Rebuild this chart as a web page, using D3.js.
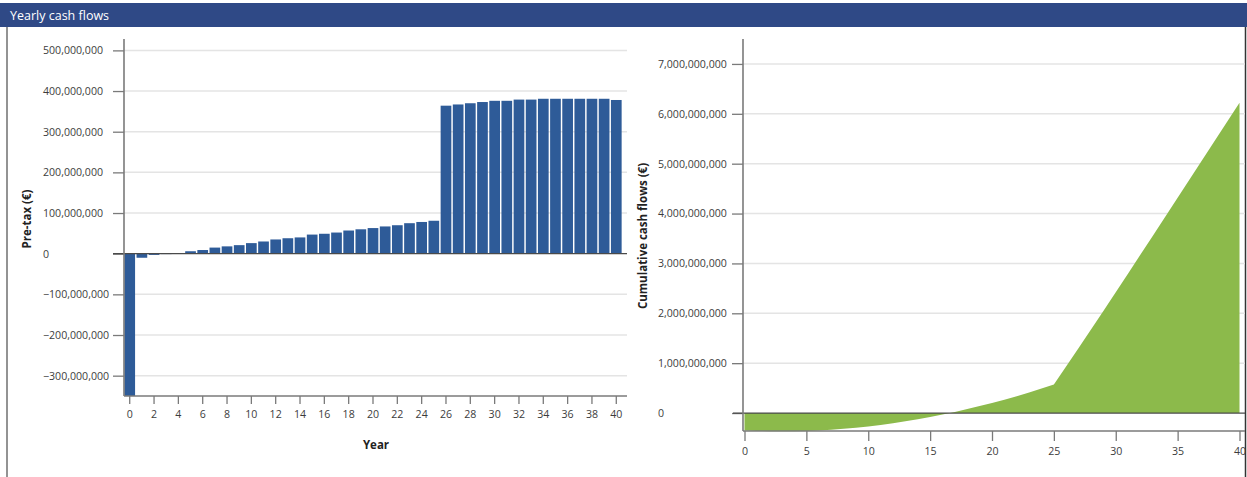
<!DOCTYPE html>
<html>
<head>
<meta charset="utf-8">
<script src="https://cdn.jsdelivr.net/npm/d3@7"></script>
<style>
  html, body { margin: 0; padding: 0; background: #fff; }
  svg { display: block; font-family: "Open Sans", "Noto Sans", sans-serif; }
</style>
</head>
<body>
<svg id="chart" width="1247" height="477"></svg>
<script>
// Project years 0..40
const years = d3.range(0, 41);

// Pre-tax yearly cash flow (€) per year
const preTax = [
  -350e6, -10e6, -3e6, -1e6, 0, 6e6, 9e6, 15e6, 18e6, 21e6,
  26e6, 30e6, 35e6, 38e6, 40e6, 47e6, 49e6, 52e6, 57e6, 60e6,
  63e6, 67e6, 70e6, 75e6, 78e6, 81e6, 364e6, 367e6, 370e6, 373e6,
  376e6, 376e6, 379e6, 379e6, 381e6, 381e6, 381e6, 381e6, 381e6, 381e6,
  378e6
];

// Cumulative cash flow is the running total of the yearly flows
const cumulative = Array.from(d3.cumsum(preTax));

// Axis ticks
const leftTicks = [500e6, 400e6, 300e6, 200e6, 100e6, 0, -100e6, -200e6, -300e6];
const leftYearTicks = d3.range(0, 41, 2);
const rightTicks = [7e9, 6e9, 5e9, 4e9, 3e9, 2e9, 1e9, 0];
const rightYearTicks = [0, 5, 10, 15, 20, 25, 30, 35, 40];

const title = "Yearly cash flows";
const leftYLabel = "Pre-tax (€)";
const leftXLabel = "Year";
const rightYLabel = "Cumulative cash flows (€)";

const svg = d3.select("#chart");
const fmt = d3.format(",");

const C = {
  header: "#2f4986",
  border: "#6f6f6f",
  grid: "#e4e4e4",
  axis: "#7a7a7a",
  zero: "#4a4a4a",
  text: "#3c3c3c",
  bar: "#2e5b98",
  area: "#8cba4b"
};

// Panel frame and header
svg.append("rect").attr("x", 0).attr("y", 3).attr("width", 1247).attr("height", 24).attr("fill", C.header);
svg.append("text").attr("x", 10).attr("y", 20).attr("fill", "#fff")
  .attr("font-size", 12.5).text(title);
svg.append("line").attr("x1", 7).attr("x2", 7).attr("y1", 27).attr("y2", 477)
  .attr("stroke", C.border).attr("stroke-width", 1.5);
svg.append("line").attr("x1", 1245.5).attr("x2", 1245.5).attr("y1", 27).attr("y2", 477)
  .attr("stroke", "#333").attr("stroke-width", 1.5);

function yAxisGroup(g, y, ticks, axisX, gridEnd, labelX) {
  // gridlines
  g.selectAll("line.grid").data(ticks.filter(d => d !== 0)).join("line")
    .attr("class", "grid")
    .attr("x1", axisX).attr("x2", gridEnd)
    .attr("y1", d => y(d)).attr("y2", d => y(d))
    .attr("stroke", C.grid).attr("stroke-width", 1.5);
  // axis with ticks, labels left-aligned
  const ax = g.append("g").attr("transform", `translate(${axisX},0)`)
    .call(d3.axisLeft(y).tickValues(ticks).tickSize(11).tickPadding(0).tickFormat(fmt));
  ax.select(".domain").remove();
  ax.selectAll(".tick line").attr("stroke", C.axis).attr("stroke-width", 1.3);
  ax.selectAll(".tick text")
    .attr("x", labelX - axisX).attr("text-anchor", "start")
    .attr("fill", C.text).attr("font-size", 10.6)
    .attr("font-family", "'Open Sans', sans-serif");
}

/* ---------- Left: yearly pre-tax cash flows ---------- */
{
  const L = { left: 124, right: 622, top: 39, bottom: 396, gridEnd: 627 };
  const x = d3.scaleBand().domain(years).range([L.left, L.right]).paddingInner(0.12).paddingOuter(0.03);
  const y = d3.scaleLinear().domain([-350e6, 528e6]).range([L.bottom, L.top]);
  const g = svg.append("g");

  yAxisGroup(g, y, leftTicks, L.left, L.gridEnd, 43);

  g.selectAll("rect.bar").data(years).join("rect")
    .attr("class", "bar")
    .attr("x", d => x(d))
    .attr("width", x.bandwidth())
    .attr("y", d => y(Math.max(0, preTax[d])))
    .attr("height", d => Math.abs(y(preTax[d]) - y(0)))
    .attr("fill", C.bar);

  // zero line
  g.append("line").attr("x1", 113).attr("x2", L.gridEnd)
    .attr("y1", y(0)).attr("y2", y(0)).attr("stroke", C.zero).attr("stroke-width", 1.3);

  // axes lines
  g.append("line").attr("x1", L.left).attr("x2", L.left).attr("y1", L.top).attr("y2", L.bottom)
    .attr("stroke", C.axis).attr("stroke-width", 1.6);
  g.append("line").attr("x1", L.left).attr("x2", L.gridEnd).attr("y1", L.bottom).attr("y2", L.bottom)
    .attr("stroke", C.axis).attr("stroke-width", 1.6);

  const xa = g.append("g").attr("transform", `translate(0,${L.bottom})`)
    .call(d3.axisBottom(x).tickValues(leftYearTicks).tickSize(8).tickPadding(6));
  xa.select(".domain").remove();
  xa.selectAll(".tick line").attr("stroke", C.axis).attr("stroke-width", 1.3);
  xa.selectAll(".tick text").attr("fill", C.text).attr("font-size", 10.6)
    .attr("font-family", "'Open Sans', sans-serif");

  g.append("text").attr("x", 376).attr("y", 449).attr("text-anchor", "middle")
    .attr("font-weight", "bold").attr("font-size", 11.5).attr("fill", "#222").text(leftXLabel);
  g.append("text").attr("transform", "translate(31,219) rotate(-90)").attr("text-anchor", "middle")
    .attr("font-weight", "bold").attr("font-size", 11.5).attr("fill", "#222").text(leftYLabel);
}

/* ---------- Right: cumulative cash flows ---------- */
{
  const R = { left: 743, right: 1240, top: 39, bottom: 431, gridEnd: 1245 };
  const x = d3.scaleLinear().domain([0, 40]).range([744.5, 1239.5]);
  const y = d3.scaleLinear().domain([-0.36e9, 7.5e9]).range([R.bottom, R.top]);
  const g = svg.append("g");

  yAxisGroup(g, y, rightTicks, R.left, R.gridEnd, 658);

  const area = d3.area()
    .x((d, i) => x(years[i]))
    .y0(y(0))
    .y1(d => y(d));
  g.append("path").datum(cumulative).attr("d", area).attr("fill", C.area);

  g.append("line").attr("x1", 733).attr("x2", R.gridEnd)
    .attr("y1", y(0)).attr("y2", y(0)).attr("stroke", C.zero).attr("stroke-width", 1.3);

  g.append("line").attr("x1", R.left).attr("x2", R.left).attr("y1", R.top).attr("y2", R.bottom)
    .attr("stroke", C.axis).attr("stroke-width", 1.6);
  g.append("line").attr("x1", R.left).attr("x2", R.gridEnd).attr("y1", R.bottom).attr("y2", R.bottom)
    .attr("stroke", C.axis).attr("stroke-width", 1.6);

  const xa = g.append("g").attr("transform", `translate(0,${R.bottom})`)
    .call(d3.axisBottom(x).tickValues(rightYearTicks).tickSize(10).tickPadding(6));
  xa.select(".domain").remove();
  xa.selectAll(".tick line").attr("stroke", C.axis).attr("stroke-width", 1.3);
  xa.selectAll(".tick text").attr("fill", C.text).attr("font-size", 10.6)
    .attr("font-family", "'Open Sans', sans-serif");

  g.append("text").attr("transform", "translate(647,236) rotate(-90)").attr("text-anchor", "middle")
    .attr("font-weight", "bold").attr("font-size", 11.5).attr("fill", "#222").text(rightYLabel);
}
</script>
</body>
</html>
